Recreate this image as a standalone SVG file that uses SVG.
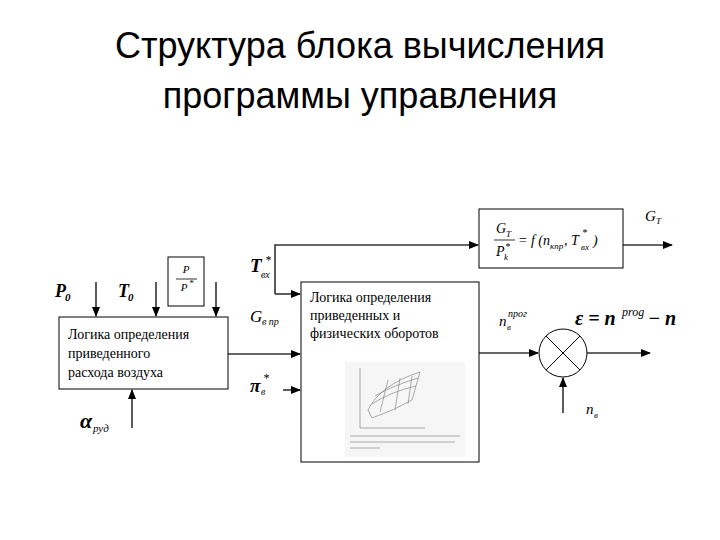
<svg xmlns="http://www.w3.org/2000/svg" width="720" height="540" viewBox="0 0 720 540">
<defs>
<marker id="ah" markerWidth="10" markerHeight="8" refX="9" refY="4" orient="auto" markerUnits="userSpaceOnUse"><path d="M0,0 L10,4 L0,8 z" fill="#000"/></marker>
</defs>
<style>
.b{fill:#fff;stroke:#000;stroke-width:1}
.c{stroke:#333;stroke-width:1.6;fill:none}
.t{font-size:14px}
.i{font-style:italic}
.bi{font-style:italic;font-weight:bold}
.g{stroke:#888;stroke-width:0.7;fill:none}
</style>
<rect width="720" height="540" fill="#fff"/>
<g id="title" font-family="Liberation Sans,sans-serif" font-size="36" text-anchor="middle" fill="#000">
<text x="360" y="58">Структура блока вычисления</text>
<text x="360" y="108">программы управления</text>
</g>
<g id="connectors">
<line class="c" x1="96" y1="282" x2="96" y2="316" marker-end="url(#ah)"/>
<line class="c" x1="156" y1="282" x2="156" y2="316" marker-end="url(#ah)"/>
<line class="c" x1="216" y1="282" x2="216" y2="316" marker-end="url(#ah)"/>
<line class="c" x1="132" y1="428" x2="132" y2="390" marker-end="url(#ah)"/>
<line class="c" x1="228" y1="354" x2="300" y2="354" marker-end="url(#ah)"/>
<line class="c" x1="283" y1="390" x2="300" y2="390" marker-end="url(#ah)"/>
<polyline class="c" points="275,294 275,245 478,245" marker-end="url(#ah)"/>
<line class="c" x1="275" y1="294" x2="300" y2="294" marker-end="url(#ah)"/>
<line class="c" x1="623" y1="245" x2="672" y2="245" marker-end="url(#ah)"/>
<line class="c" x1="479" y1="353" x2="538" y2="353" marker-end="url(#ah)"/>
<line class="c" x1="587" y1="353" x2="650" y2="353" marker-end="url(#ah)"/>
<line class="c" x1="563" y1="413" x2="563" y2="378" marker-end="url(#ah)"/>
</g>
<g font-family="'Liberation Serif', 'DejaVu Serif', serif" fill="#000">
<g id="air-block">
<rect class="b" x="59" y="317" width="169" height="72"/>
<text class="t" x="68" y="339">Логика определения</text>
<text class="t" x="68" y="358">приведенного</text>
<text class="t" x="68" y="377">расхода воздуха</text>
</g>
<g id="pratio">
<rect class="b" x="168" y="257" width="36" height="49"/>
<text class="i" x="186" y="273" font-size="11" text-anchor="middle">P</text>
<line x1="176" y1="279" x2="197" y2="279" stroke="#000" stroke-width="0.8"/>
<text class="i" x="184" y="291" font-size="11" text-anchor="middle">P</text>
<text class="i" x="189" y="286" font-size="9">*</text>
</g>
<g id="speed-block">
<rect class="b" x="301" y="282" width="178" height="180"/>
<text class="t" x="310" y="302">Логика определения</text>
<text class="t" x="310" y="320">приведенных и</text>
<text class="t" x="310" y="338">физических оборотов</text>
<rect x="345" y="362" width="120" height="95" fill="#f6f6f6"/>
<polyline class="g" points="360,368 360,428 425,428"/>
<path class="g" d="M368,410 Q380,385 420,372 L412,400 Q395,410 372,418 Z"/>
<path class="g" d="M372,404 Q390,392 416,386 M375,396 Q392,386 418,378 M380,412 L388,380 M395,410 L400,378 M408,404 L412,376"/>
<line x1="350" y1="436" x2="460" y2="436" stroke="#aaa" stroke-width="1"/>
<line x1="350" y1="442" x2="455" y2="442" stroke="#aaa" stroke-width="1"/>
<line x1="350" y1="448" x2="380" y2="448" stroke="#aaa" stroke-width="1"/>
</g>
<g id="formula-block">
<rect class="b" x="479" y="209" width="144" height="59"/>
<text class="i" x="496" y="233" font-size="14">G</text><text class="i" x="506" y="237" font-size="9">T</text>
<line x1="494" y1="240" x2="515" y2="240" stroke="#000" stroke-width="0.8"/>
<text class="i" x="496" y="256" font-size="14">P</text><text class="i" x="504" y="260" font-size="9">k</text><text class="i" x="505" y="250" font-size="10">*</text>
<text class="i" x="518" y="245" font-size="14">= f (n</text><text class="i" x="550" y="249" font-size="9">кпр</text><text class="i" x="564" y="245" font-size="14">, T</text><text class="i" x="581" y="250" font-size="9">вх</text><text class="i" x="582" y="236" font-size="10">*</text><text class="i" x="593" y="245" font-size="14">)</text>
</g>
<g id="labels">
<text class="bi" x="55" y="297" font-size="18">P</text><text class="bi" x="65" y="301" font-size="11">0</text>
<text class="bi" x="118" y="297" font-size="18">T</text><text class="bi" x="128" y="301" font-size="11">0</text>
<text class="bi" x="250" y="272" font-size="19">T</text><text class="i" x="261" y="278" font-size="10">вх</text><text class="i" x="265" y="264" font-size="12">*</text>
<text class="i" x="250" y="322" font-size="17">G</text><text class="i" x="262" y="325" font-size="10">в пр</text>
<text class="bi" x="250" y="392" font-size="19">π</text><text class="i" x="261" y="395" font-size="10">в</text><text class="i" x="263" y="382" font-size="12">*</text>
<text class="bi" x="80" y="428" font-size="22">α</text><text class="i" x="93" y="432" font-size="11">руд</text>
<text class="i" x="645" y="221" font-size="15">G</text><text class="i" x="656" y="224" font-size="9">T</text>
<text class="i" x="499" y="326" font-size="15">n</text><text class="i" x="507" y="330" font-size="9">в</text><text class="i" x="508" y="317" font-size="10">прог</text>
<text class="bi" x="575" y="325" font-size="20">ε = n</text><text class="i" x="622" y="316" font-size="12">prog</text><text class="bi" x="648" y="325" font-size="20">− n</text>
<text class="i" x="586" y="414" font-size="15">n</text><text class="i" x="594" y="418" font-size="9">в</text>
</g>
</g>
<g id="summator">
<circle cx="563" cy="353" r="24" fill="#fff" stroke="#000" stroke-width="1"/>
<line x1="546" y1="336" x2="580" y2="370" stroke="#000"/>
<line x1="580" y1="336" x2="546" y2="370" stroke="#000"/>
</g>
</svg>
